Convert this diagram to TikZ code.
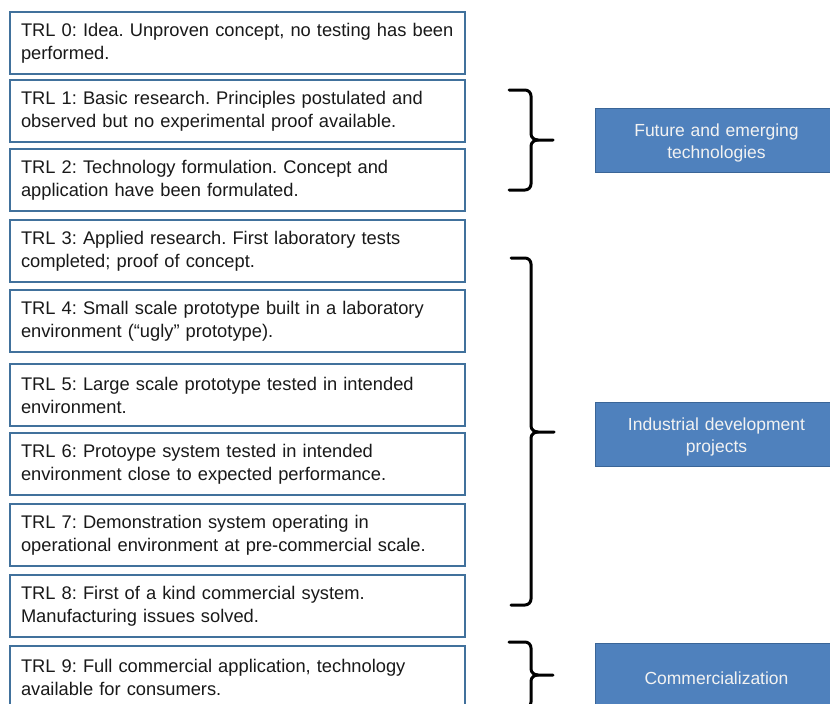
\documentclass[tikz,border=0pt]{standalone}
\usepackage{fontspec}
\setmainfont{Liberation Sans}
\definecolor{boxline}{HTML}{41719C}
\definecolor{bluefill}{HTML}{4F81BD}
\definecolor{blueline}{HTML}{3A6597}
\begin{document}
\frenchspacing
\begin{tikzpicture}[x=1pt,y=-1pt,
  trl/.style={draw=boxline, line width=2pt, fill=white, anchor=north west,
    minimum width=455pt, minimum height=62pt, text width=433pt, inner xsep=11pt,
    align=left, font=\fontsize{18.3}{23}\selectfont, text=black!90},
  phase/.style={draw=blueline, line width=1pt, fill=bluefill, anchor=north west,
    minimum width=242pt, minimum height=64pt},
  phasetext/.style={text width=230pt, align=center, yshift=-2.5pt,
    font=\fontsize{17.5}{22.5}\selectfont, text=white!95!black},
  brace/.style={line width=3pt, line cap=round, draw=black}]
\useasboundingbox (0,0) rectangle (830,704);
\clip (0,0) rectangle (830,704);
\fill[white] (0,0) rectangle (830,704);
\node[trl] (t0) at (9,11) {TRL 0: Idea. Unproven concept, no testing has been\\performed.};
\node[trl] (t1) at (9,79) {TRL 1: Basic research. Principles postulated and\\observed but no experimental proof available.};
\node[trl] (t2) at (9,148) {TRL 2: Technology formulation. Concept and\\application have been formulated.};
\node[trl] (t3) at (9,219) {TRL 3: Applied research. First laboratory tests\\completed; proof of concept.};
\node[trl] (t4) at (9,289) {TRL 4: Small scale prototype built in a laboratory\\environment (“ugly” prototype).};
\node[trl] (t5) at (9,363) {TRL 5: Large scale prototype tested in intended\\environment.};
\node[trl] (t6) at (9,432) {TRL 6: Protoype system tested in intended\\environment close to expected performance.};
\node[trl] (t7) at (9,503) {TRL 7: Demonstration system operating in\\operational environment at pre-commercial scale.};
\node[trl] (t8) at (9,574) {TRL 8: First of a kind commercial system.\\Manufacturing issues solved.};
\node[trl] (t9) at (9,645) {TRL 9: Full commercial application, technology\\available for consumers.};
\node[phase] (p1) at (595,108) {};
\node[phasetext] (p1t) at (p1.center) {Future and emerging\\technologies};
\node[phase] (p2) at (595,402) {};
\node[phasetext] (p2t) at (p2.center) {Industrial development\\projects};
\node[phase, minimum height=66pt] (p3) at (595,643) {};
\node[phasetext, yshift=1pt] (p3t) at (p3.center) {Commercialization};
% braces
\draw[brace] (509,90) -- (525,90) to[out=0,in=90] (531,96) -- (531,134) to[out=-90,in=180] (538,140) -- (553,140);
\draw[brace] (538,140) to[out=180,in=90] (531,146) -- (531,184) to[out=-90,in=0] (525,190) -- (509,190);
\draw[brace] (511,258) -- (525,258) to[out=0,in=90] (531,264) -- (531,426) to[out=-90,in=180] (538,432) -- (554,432);
\draw[brace] (538,432) to[out=180,in=90] (531,438) -- (531,599) to[out=-90,in=0] (525,605) -- (511,605);
\draw[brace] (509,642) -- (525,642) to[out=0,in=90] (531,648) -- (531,669) to[out=-90,in=180] (538,675) -- (553,675);
\draw[brace] (538,675) to[out=180,in=90] (531,681) -- (531,702) to[out=-90,in=0] (525,708) -- (509,708);
\end{tikzpicture}
\end{document}
